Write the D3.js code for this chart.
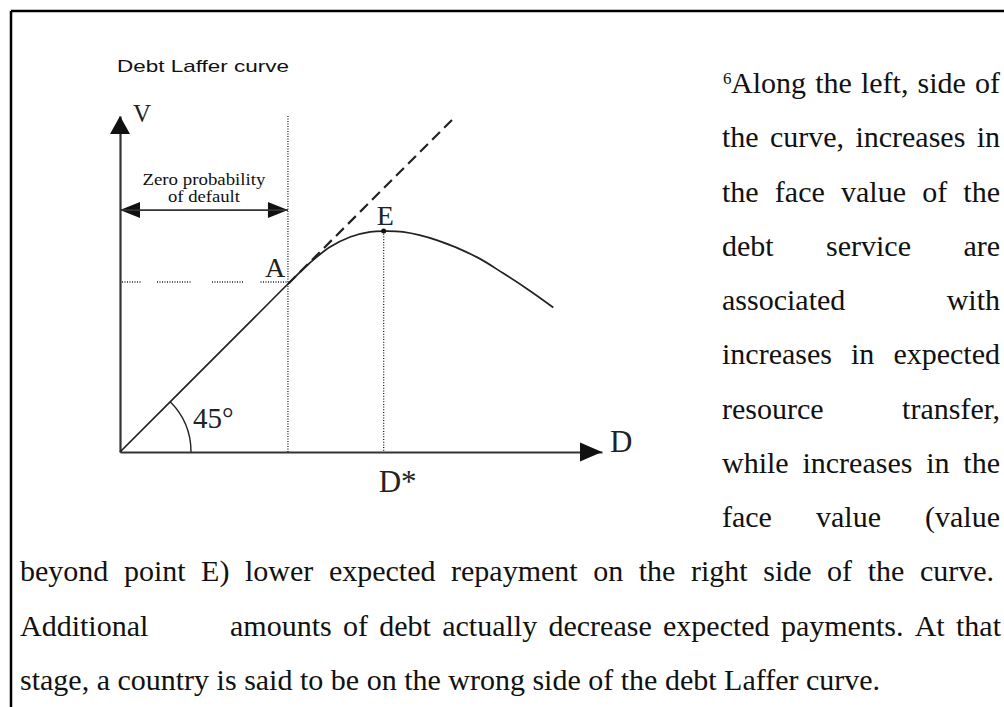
<!DOCTYPE html>
<html>
<head>
<meta charset="utf-8">
<script src="https://cdn.jsdelivr.net/npm/d3@7"></script>
<style>
  body { margin: 0; background: #fff; }
  svg { display: block; }
</style>
</head>
<body>
<svg id="fig" width="1004" height="707"></svg>
<script>
  // values, in chart units (point A sits at D = V = 10)
  var curveD = [0, 8, 10, 11.3, 12.5, 13.7, 14.9, 15.7, 16.85, 18.9, 21.25, 22.8, 24.4, 25.8];
  var curveV = [0, 8, 10, 11.25, 12.2, 12.8, 13.1, 13.15, 13.1, 12.6, 11.6, 10.65, 9.6, 8.6];
  var tangentD = [10, 20];
  var tangentV = [10, 20];
  var pointA = {D: 10, V: 10};
  var pointE = {D: 15.7, V: 13.15};
  var axisMaxD = 28.7, axisMaxV = 20;
  var zeroProbV = 14.4;

  var titleText = 'Debt Laffer curve';
  var zeroProbLines = ['Zero probability', 'of default'];
  var sideLines = [
    'Along the left, side of',
    'the curve, increases in',
    'the face value of the',
    'debt service are',
    'associated with',
    'increases in expected',
    'resource transfer,',
    'while increases in the',
    'face value (value'
  ];
  var fullLines = [
    'beyond point E) lower expected repayment on the right side of the curve.',
    'Additional\tamounts of debt actually decrease expected payments. At that',
    'stage, a country is said to be on the wrong side of the debt Laffer curve.'
  ];

  var svg = d3.select('#fig');
  var ink = '#222';

  /* page frame */
  svg.append('line').attr('x1', 11).attr('y1', 11).attr('x2', 1004).attr('y2', 11)
     .style('stroke', '#000').style('stroke-width', 2.5);
  svg.append('line').attr('x1', 11).attr('y1', 11).attr('x2', 11).attr('y2', 707)
     .style('stroke', '#000').style('stroke-width', 2.5);

  var x = d3.scaleLinear().domain([0, axisMaxD]).range([120, 602]);
  var y = d3.scaleLinear().domain([0, axisMaxV]).range([452, 116]);

  var chart = svg.append('g').attr('class', 'chart');

  chart.append('text').attr('x', 117).attr('y', 72)
       .attr('textLength', 172).attr('lengthAdjust', 'spacingAndGlyphs')
       .style('font-family', '"Liberation Sans", Arial, sans-serif').style('font-size', '16.5px')
       .style('fill', '#111').text(titleText);

  // axes: plain lines, no ticks
  chart.append('g').attr('transform', 'translate(0,' + y(0) + ')')
       .call(d3.axisBottom(x).tickValues([]).tickSizeOuter(0));
  chart.append('g').attr('transform', 'translate(' + x(0) + ',0)')
       .call(d3.axisLeft(y).tickValues([]).tickSizeOuter(0));
  chart.selectAll('.domain').style('stroke', '#333').style('stroke-width', 2.2);

  function triangle(tipX, tipY, dirX, dirY, len, half) {
      var p = d3.path();
      var bx = tipX - dirX * len, by = tipY - dirY * len;
      p.moveTo(tipX, tipY);
      p.lineTo(bx - dirY * half, by + dirX * half);
      p.lineTo(bx + dirY * half, by - dirX * half);
      p.closePath();
      return p.toString();
  }
  var heads = chart.append('g').style('fill', '#111');
  heads.append('path').attr('d', triangle(x(axisMaxD), y(0), 1, 0, 22, 9.5));
  heads.append('path').attr('d', triangle(x(0), y(axisMaxV), 0, -1, 18, 10));

  // zero probability of default span
  chart.append('line').attr('x1', x(0)).attr('x2', x(pointA.D))
       .attr('y1', y(zeroProbV)).attr('y2', y(zeroProbV))
       .style('stroke', '#333').style('stroke-width', 1.8);
  heads.append('path').attr('d', triangle(x(0), y(zeroProbV), -1, 0, 20, 8));
  heads.append('path').attr('d', triangle(x(pointA.D), y(zeroProbV), 1, 0, 20, 8));

  var zpWidths = [123, 72];
  chart.selectAll('text.zp').data(zeroProbLines).enter().append('text')
       .attr('class', 'zp').attr('text-anchor', 'middle')
       .attr('x', (x(0) + x(pointA.D)) / 2)
       .attr('y', function(d, i){ return 185 + i * 17; })
       .attr('textLength', function(d, i){ return zpWidths[i]; })
       .attr('lengthAdjust', 'spacingAndGlyphs')
       .style('font-family', '"Liberation Serif", "Times New Roman", serif')
       .style('font-size', '16px').style('fill', '#111')
       .text(function(d){ return d; });

  // dotted guides
  chart.append('line').attr('x1', x(pointA.D)).attr('x2', x(pointA.D))
       .attr('y1', y(axisMaxV)).attr('y2', y(0))
       .style('stroke', '#222').style('stroke-width', 1.3).style('stroke-dasharray', '1,1.5');
  chart.append('line').attr('x1', x(pointE.D)).attr('x2', x(pointE.D))
       .attr('y1', y(pointE.V)).attr('y2', y(0))
       .style('stroke', '#222').style('stroke-width', 1.3).style('stroke-dasharray', '1,1.7');

  // horizontal guide at A: runs of dots with gaps
  function dotRuns(runs) {
      var out = [];
      runs.forEach(function(r){
          var n = Math.floor(r[0] / 2.5);
          for (var i = 0; i < n; i++) out.push(1, 1.5);
          if (r[1]) { out[out.length - 1] += r[1]; }
      });
      return out.join(',');
  }
  chart.append('line').attr('x1', x(0) + 2).attr('x2', x(pointA.D))
       .attr('y1', y(pointA.V) - 2).attr('y2', y(pointA.V) - 2)
       .style('stroke', '#222').style('stroke-width', 1.4)
       .style('stroke-dasharray', dotRuns([[21, 15], [35, 20], [34, 16], [26, 0]]));

  // 45 degree tangent, dashed
  var tangent = d3.zip(tangentD, tangentV);
  chart.append('path').datum(tangent)
       .attr('d', d3.line().x(function(d){ return x(d[0]); }).y(function(d){ return y(d[1]); }))
       .style('fill', 'none').style('stroke', ink).style('stroke-width', 2.2)
       .style('stroke-dasharray', '11,6');

  // debt Laffer curve
  var curve = d3.zip(curveD, curveV);
  chart.append('path').datum(curve)
       .attr('d', d3.line().curve(d3.curveCatmullRom.alpha(0.5))
                  .x(function(d){ return x(d[0]); }).y(function(d){ return y(d[1]); }))
       .style('fill', 'none').style('stroke', ink).style('stroke-width', 1.7);

  chart.append('circle').attr('cx', x(pointE.D)).attr('cy', y(pointE.V)).attr('r', 2.5)
       .style('fill', '#111');

  // 45 degree arc at the origin
  var arc = d3.path();
  arc.arc(x(0), y(0), 71, -Math.PI / 4, 0);
  chart.append('path').attr('d', arc.toString())
       .style('fill', 'none').style('stroke', ink).style('stroke-width', 1.4);

  var serif = '"Liberation Serif", "Times New Roman", serif';
  function label(txt, px, py, size) {
      chart.append('text').attr('x', px).attr('y', py)
           .style('font-family', serif).style('font-size', size + 'px')
           .style('fill', ink).text(txt);
  }
  label('V', x(0) + 13, y(axisMaxV) + 6, 25);
  label('A', x(pointA.D) - 23, y(pointA.V) - 7, 28);
  label('E', x(pointE.D) - 7, y(pointE.V) - 6, 28);
  label('D', x(axisMaxD) + 8, y(0), 31);
  label('D*', x(pointE.D) - 5, y(0) + 40, 31);
  label('45\u00b0', x(0) + 73, y(0) - 24, 29);

  /* body text, justified word by word */
  var body = svg.append('g')
       .style('font-family', serif).style('font-size', '30px').style('fill', '#111');

  function setLine(words, x0, x1, yb, stretch) {
      var nodes = words.map(function(w){
          return body.append('text').attr('y', yb).text(w);
      });
      var widths = nodes.map(function(n){ return n.node().getComputedTextLength(); });
      var gap = 7.5;
      if (stretch && words.length > 1) gap = (x1 - x0 - d3.sum(widths)) / (words.length - 1);
      var cx = x0;
      nodes.forEach(function(n, i){ n.attr('x', cx); cx += widths[i] + gap; });
  }

  var lineStep = 54.27, firstBase = 93;
  body.append('text').attr('x', 723).attr('y', firstBase - 9)
      .style('font-size', '17px').text('6');
  sideLines.forEach(function(s, i){
      setLine(s.split(' '), i === 0 ? 731 : 722, 1000, firstBase + i * lineStep, true);
  });

  var rightEdges = [994, 1001, 0];
  fullLines.forEach(function(s, j){
      var yb = firstBase + (sideLines.length + j) * lineStep;
      var parts = s.split('\t');
      if (parts.length > 1) {
          setLine([parts[0]], 20, 20, yb, false);
          setLine(parts[1].split(' '), 230, rightEdges[j], yb, true);
      } else {
          setLine(s.split(' '), 20, rightEdges[j], yb, j < fullLines.length - 1);
      }
  });
</script>
</body>
</html>
